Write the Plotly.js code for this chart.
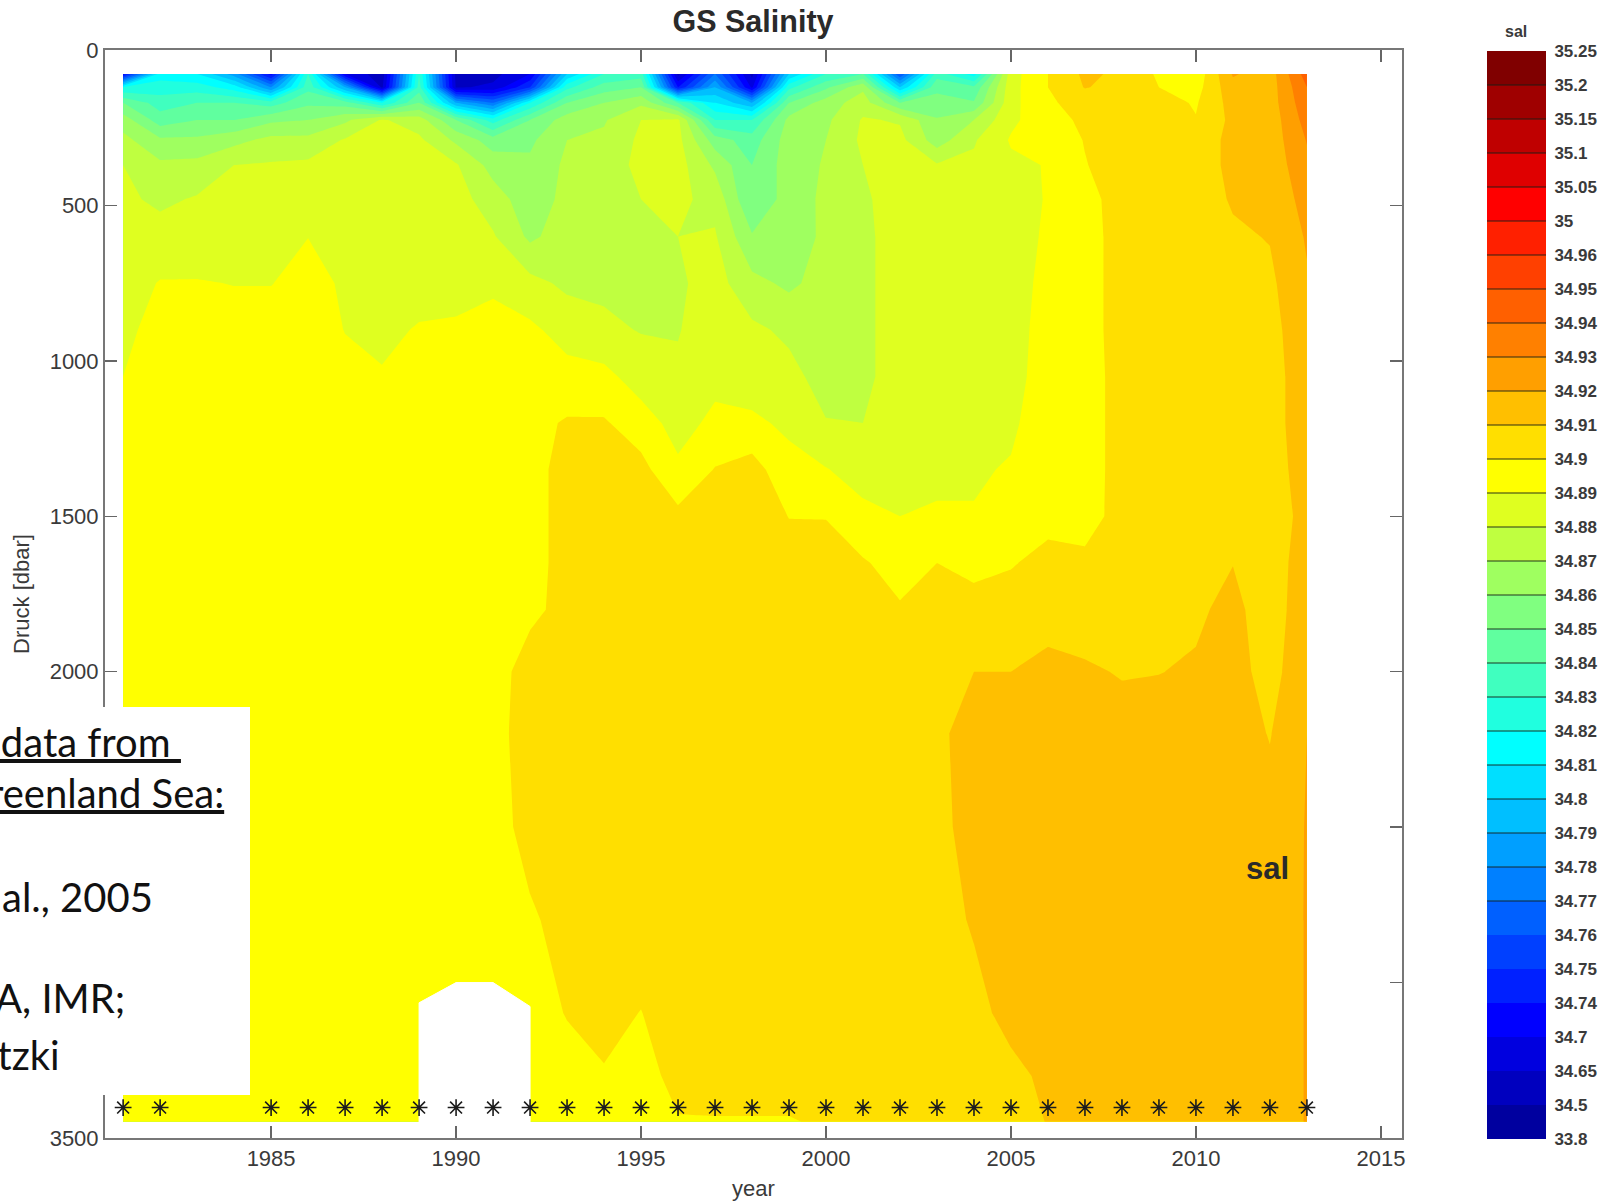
<!DOCTYPE html>
<html>
<head>
<meta charset="utf-8">
<script src="https://cdn.plot.ly/plotly-3.0.1.min.js"></script>
<style>html,body{margin:0;padding:0;background:#fff;overflow:hidden}#c{width:1608px;height:1202px}</style>
</head>
<body>
<div id="c"></div>
<script>
const years = [1981,1982,1983,1984,1985,1986,1987,1988,1989,1990,1991,1992,1993,1994,1995,1996,1997,1998,1999,2000,2001,2002,2003,2004,2005,2006,2007,2008,2009,2010,2011,2012,2013];
const depths = [77,120,170,225,290,370,480,600,750,900,1050,1200,1350,1500,1650,1800,2000,2200,2500,2800,3100,3300,3448];

const s1981 = [34.72,34.82,34.85,34.865,34.873,34.88,34.882,34.884,34.886,34.888,34.89,34.892,34.894,34.895,34.895,34.895,34.895,34.895,34.895,34.895,34.895,34.895,34.895];
const s1982 = [34.815,34.825,34.835,34.845,34.862,34.872,34.878,34.884,34.8905,34.893,34.895,34.895,34.895,34.895,34.895,34.895,34.895,34.895,34.895,34.895,34.895,34.895,34.895];
const s1983 = [34.81,34.825,34.84,34.85,34.862,34.873,34.881,34.885,34.8905,34.893,34.895,34.895,34.895,34.895,34.895,34.895,34.895,34.895,34.895,34.895,34.895,34.895,34.895];
const s1984 = [34.785,34.815,34.84,34.85,34.867,34.88,34.883,34.886,34.8898,34.893,34.895,34.895,34.895,34.895,34.895,34.895,34.895,34.895,34.895,34.895,34.895,34.895,34.895];
const s1985 = [34.72,34.78,34.835,34.858,34.873,34.881,34.884,34.886,34.8898,34.893,34.895,34.895,34.895,34.895,34.895,34.895,34.895,34.895,34.895,34.895,34.895,34.895,34.895];
const s1986 = [34.83,34.837,34.848,34.86,34.873,34.882,34.886,34.8899,34.8925,34.894,34.895,34.895,34.895,34.895,34.895,34.895,34.895,34.895,34.895,34.895,34.895,34.895,34.895];
const s1987 = [34.70,34.79,34.845,34.868,34.881,34.884,34.886,34.8893,34.889,34.8898,34.892,34.894,34.895,34.895,34.895,34.895,34.895,34.895,34.895,34.895,34.895,34.895,34.895];
const s1988 = [34.55,34.62,34.82,34.881,34.883,34.884,34.885,34.886,34.887,34.8885,34.8905,34.893,34.895,34.895,34.895,34.895,34.895,34.895,34.895,34.895,34.895,34.895,34.895];
const s1989 = [34.83,34.835,34.85,34.875,34.882,34.884,34.885,34.886,34.8875,34.8905,34.893,34.895,34.895,34.895,34.895,34.895,34.895,34.895,34.895,34.895,34.895,34.895,34.895];
const s1990 = [34.6,34.63,34.79,34.85,34.868,34.881,34.884,34.885,34.8875,34.891,34.893,34.895,34.895,34.895,34.895,34.895,34.895,34.895,34.895,34.895,34.895,34.895,34.895];
const s1991 = [34.6,34.66,34.77,34.825,34.855,34.866,34.875,34.881,34.889,34.892,34.894,34.895,34.896,34.897,34.897,34.897,34.897,34.897,34.897,34.897,34.897,34.897,34.897];
const s1992 = [34.70,34.75,34.82,34.85,34.858,34.862,34.864,34.868,34.883,34.892,34.895,34.897,34.8975,34.8975,34.8975,34.8985,34.903,34.904,34.9025,34.899,34.895,34.895,34.895];
const s1993 = [34.80,34.827,34.85,34.865,34.87,34.872,34.873,34.875,34.878,34.886,34.8935,34.901,34.9025,34.9025,34.9025,34.902,34.904,34.905,34.905,34.9025,34.9005,34.896,34.895];
const s1994 = [34.83,34.845,34.86,34.869,34.872,34.874,34.875,34.876,34.878,34.882,34.893,34.901,34.904,34.905,34.905,34.905,34.905,34.905,34.905,34.905,34.902,34.8995,34.896];
const s1995 = [34.835,34.85,34.868,34.88,34.882,34.883,34.88,34.8795,34.8795,34.8795,34.885,34.895,34.903,34.905,34.905,34.905,34.905,34.905,34.905,34.904,34.8998,34.897,34.896];
const s1996 = [34.60,34.74,34.84,34.882,34.883,34.884,34.882,34.88,34.8785,34.8795,34.8815,34.886,34.892,34.9025,34.904,34.905,34.905,34.905,34.905,34.905,34.904,34.9025,34.8995];
const s1997 = [34.77,34.79,34.81,34.83,34.855,34.868,34.877,34.881,34.884,34.885,34.887,34.8925,34.9005,34.904,34.905,34.905,34.905,34.905,34.905,34.905,34.905,34.9035,34.8995];
const s1998 = [34.60,34.69,34.79,34.83,34.845,34.85,34.85,34.861,34.873,34.882,34.886,34.8915,34.9045,34.905,34.905,34.905,34.905,34.905,34.905,34.905,34.905,34.9035,34.8995];
const s1999 = [34.80,34.827,34.85,34.863,34.865,34.865,34.865,34.862,34.868,34.878,34.883,34.8885,34.8925,34.8998,34.9035,34.905,34.905,34.905,34.905,34.905,34.905,34.9035,34.8995];
const s2000 = [34.83,34.848,34.865,34.868,34.87,34.871,34.872,34.873,34.874,34.875,34.876,34.8805,34.8905,34.8998,34.9025,34.905,34.905,34.905,34.905,34.905,34.905,34.905,34.901];
const s2001 = [34.84,34.868,34.875,34.881,34.882,34.88,34.878,34.877,34.877,34.877,34.877,34.88,34.886,34.8925,34.901,34.904,34.905,34.905,34.905,34.905,34.905,34.905,34.905];
const s2002 = [34.76,34.80,34.85,34.879,34.883,34.885,34.886,34.886,34.886,34.886,34.886,34.887,34.888,34.89,34.896,34.901,34.904,34.905,34.905,34.905,34.905,34.905,34.905];
const s2003 = [34.835,34.848,34.853,34.861,34.865,34.881,34.883,34.884,34.885,34.886,34.887,34.888,34.889,34.8905,34.90,34.903,34.906,34.9085,34.9085,34.906,34.905,34.905,34.905];
const s2004 = [34.815,34.842,34.851,34.87,34.879,34.882,34.884,34.885,34.886,34.886,34.887,34.888,34.889,34.8905,34.8985,34.902,34.91,34.913,34.912,34.911,34.907,34.905,34.905];
const s2005 = [34.886,34.8865,34.887,34.888,34.891,34.888,34.887,34.887,34.887,34.887,34.887,34.8885,34.8907,34.894,34.8995,34.903,34.91,34.913,34.914,34.915,34.913,34.9075,34.905];
const s2006 = [34.90,34.90,34.8985,34.896,34.893,34.8905,34.8905,34.891,34.892,34.893,34.894,34.895,34.896,34.898,34.902,34.907,34.912,34.914,34.915,34.915,34.915,34.912,34.9105];
const s2007 = [34.912,34.9105,34.904,34.902,34.9005,34.8995,34.896,34.895,34.895,34.895,34.894,34.894,34.894,34.8945,34.903,34.906,34.911,34.914,34.915,34.915,34.915,34.915,34.915];
const s2008 = [34.908,34.907,34.906,34.905,34.905,34.905,34.905,34.905,34.905,34.905,34.905,34.905,34.905,34.905,34.905,34.906,34.9095,34.913,34.915,34.915,34.915,34.915,34.915];
const s2009 = [34.8985,34.90,34.904,34.905,34.905,34.905,34.905,34.905,34.905,34.905,34.905,34.905,34.905,34.905,34.905,34.906,34.9098,34.914,34.915,34.915,34.915,34.915,34.915];
const s2010 = [34.893,34.896,34.899,34.9005,34.905,34.905,34.905,34.905,34.905,34.905,34.905,34.905,34.905,34.905,34.906,34.9085,34.911,34.914,34.915,34.915,34.915,34.915,34.915];
const s2011 = [34.921,34.917,34.914,34.9125,34.9125,34.9125,34.911,34.9085,34.907,34.906,34.905,34.905,34.905,34.906,34.9098,34.9125,34.914,34.915,34.915,34.915,34.915,34.915,34.915];
const s2012 = [34.915,34.915,34.915,34.914,34.914,34.913,34.912,34.9105,34.908,34.906,34.905,34.905,34.905,34.905,34.905,34.905,34.906,34.9095,34.914,34.915,34.915,34.915,34.915];
const s2013 = [34.945,34.94,34.937,34.934,34.9305,34.928,34.924,34.921,34.919,34.918,34.917,34.917,34.915,34.913,34.915,34.916,34.918,34.92,34.9205,34.9205,34.9205,34.9205,34.9205];
const profiles = [s1981,s1982,s1983,s1984,s1985,s1986,s1987,s1988,s1989,s1990,s1991,s1992,s1993,s1994,s1995,s1996,s1997,s1998,s1999,s2000,s2001,s2002,s2003,s2004,s2005,s2006,s2007,s2008,s2009,s2010,s2011,s2012,s2013];

const levels = [33.8,34.5,34.65,34.7,34.74,34.75,34.76,34.77,34.78,34.79,34.8,34.81,34.82,34.83,34.84,34.85,34.86,34.87,34.88,34.89,34.9,34.91,34.92,34.93,34.94,34.95,34.96,35,35.05,35.1,35.15,35.2,35.25];
const levelLabels = ['33.8','34.5','34.65','34.7','34.74','34.75','34.76','34.77','34.78','34.79','34.8','34.81','34.82','34.83','34.84','34.85','34.86','34.87','34.88','34.89','34.9','34.91','34.92','34.93','34.94','34.95','34.96','35','35.05','35.1','35.15','35.2','35.25'];
const bandColors = ['#00009f','#0000bf','#0000df','#0000ff','#0020ff','#0040ff','#0060ff','#0080ff','#009fff','#00bfff','#00dfff','#00ffff','#20ffdf','#40ffbf','#60ff9f','#80ff80','#9fff60','#bfff40','#dfff20','#ffff00','#ffdf00','#ffbf00','#ff9f00','#ff8000','#ff6000','#ff4000','#ff2000','#ff0000','#df0000','#bf0000','#9f0000','#800000'];

const castYears = [1981,1982,1985,1986,1987,1988,1989,1990,1991,1992,1993,1994,1995,1996,1997,1998,1999,2000,2001,2002,2003,2004,2005,2006,2007,2008,2009,2010,2011,2012,2013];
const castDepth = 3402;
const gapYears = [1989,1989,1990,1991,1992,1992];
const gapDepths = [3452,3065,3000,3000,3077,3452];
const xTicks = [1985,1990,1995,2000,2005,2010,2015];
const yTicks = [0,500,1000,1500,2000,2500,3000,3500];
const yTickLabels = ['0','500','1000','1500','2000','','','3500'];

const W = 1608, H = 1202;
const fx = p => p / W;
const fy = p => 1 - p / H;
const sans = 'Liberation Sans, Arial, sans-serif';
const ink = '#3a3a3a';

// the level spacing is uneven: contour on the position within the level list
function toLevelIndex(v) {
  for (let i = 0; i < levels.length - 1; i++) {
    if (v <= levels[i + 1]) return i + (v - levels[i]) / (levels[i + 1] - levels[i]);
  }
  return levels.length - 1;
}
const zIndex = depths.map((_, r) => profiles.map(col => toLevelIndex(col[r])));

const contourScale = [[0, bandColors[0]]]
  .concat(bandColors.map((c, k) => [(k + 1) / 33, c]))
  .concat([[1, bandColors[31]]]);
const barScale = bandColors.map((c, k) => [k / 31, c]);

const barEdges = levels.map((_, i) => i);
const barRows = bandColors.map((_, k) => [k]);
const sepX = [], sepY = [];
for (let i = 7; i < 32; i++) { sepX.push(0, 1, null); sepY.push(i, i, null); }

const traces = [
  {type:'contour', x:years, y:depths, z:zIndex, autocontour:false,
   contours:{start:0, end:32, size:1, coloring:'fill', showlines:false},
   line:{width:0, smoothing:0}, colorscale:contourScale, showscale:false, hoverinfo:'skip'},
  {type:'scatter', mode:'lines', x:gapYears, y:gapDepths, fill:'toself', fillcolor:'#ffffff',
   line:{color:'#ffffff', width:1}, hoverinfo:'skip', showlegend:false},
  {type:'scatter', mode:'markers', x:castYears, y:castYears.map(() => castDepth),
   marker:{symbol:'asterisk-open', size:14, color:'#1c1c1c', line:{color:'#1c1c1c', width:1.6}},
   hoverinfo:'skip', showlegend:false},
  {type:'heatmap', xaxis:'x2', yaxis:'y2', x:[0,1], y:barEdges, z:barRows, zmin:0, zmax:31,
   colorscale:barScale, showscale:false, hoverinfo:'skip'},
  {type:'scatter', mode:'lines', xaxis:'x2', yaxis:'y2', x:sepX, y:sepY,
   line:{color:'rgba(20,30,20,0.6)', width:1.5}, hoverinfo:'skip', showlegend:false}
];

const textLine = (text, right, y, size) => ({
  xref:'paper', yref:'paper', x:fx(right), y:fy(y), xanchor:'right', yanchor:'middle',
  showarrow:false, text:text, align:'right',
  font:{family:'Lato, sans-serif', size:size, color:'#111111'}
});

const layout = {
  width:W, height:H, margin:{l:0,r:0,t:0,b:0,pad:0}, paper_bgcolor:'#ffffff', plot_bgcolor:'#ffffff',
  showlegend:false,
  title:{text:'<b>GS Salinity</b>', x:fx(753), xanchor:'center', y:fy(21), yanchor:'middle',
         font:{family:sans, size:30.5, color:'#2a2a2a'}},
  xaxis:{domain:[fx(105),fx(1402)], range:[1980.51,2015.57], tickmode:'array', tickvals:xTicks,
         ticks:'inside', ticklen:12, tickwidth:1.5, tickcolor:'#666666', mirror:'ticks',
         showline:true, linecolor:'#777777', linewidth:2, showgrid:false, zeroline:false,
         tickfont:{family:sans, size:22, color:ink}, anchor:'y',
         title:{text:'year', standoff:10, font:{family:sans, size:22, color:ink}}},
  yaxis:{domain:[fy(1138),fy(50)], range:[3500,0], tickmode:'array', tickvals:yTicks, ticktext:yTickLabels,
         ticks:'inside', ticklen:12, tickwidth:1.5, tickcolor:'#666666', mirror:'ticks',
         showline:true, linecolor:'#777777', linewidth:2, showgrid:false, zeroline:false,
         tickfont:{family:sans, size:22, color:ink}, anchor:'x',
         title:{text:'Druck [dbar]', standoff:14, font:{family:sans, size:22, color:ink}}},
  xaxis2:{domain:[fx(1487),fx(1546)], range:[0,1], visible:false, anchor:'y2'},
  yaxis2:{domain:[fy(1139),fy(51)], range:[0,32], anchor:'x2', side:'right', tickmode:'array',
          tickvals:barEdges, ticktext:levelLabels, ticks:'outside', ticklen:4, tickcolor:'rgba(0,0,0,0)',
          showline:false, showgrid:false, zeroline:false,
          tickfont:{family:sans, size:17, weight:'bold', color:ink}},
  shapes:[{type:'rect', xref:'paper', yref:'paper', x0:0, x1:fx(250), y0:fy(1095), y1:fy(707),
           fillcolor:'#ffffff', line:{width:0}, layer:'above'}],
  annotations:[
    textLine('<u>-data from&#160;</u>', 183, 742, 40),
    textLine('<u>reenland Sea:</u>', 226, 793, 40),
    textLine('al., 2005', 155, 897, 40),
    textLine('A, IMR;', 127, 998, 40),
    textLine('otzki', 62, 1055, 40),
    {xref:'paper', yref:'paper', x:fx(1267), y:fy(868), xanchor:'center', yanchor:'middle', showarrow:false,
     text:'<b>sal</b>', font:{family:sans, size:31, color:'#2a2a2a'}},
    {xref:'paper', yref:'paper', x:fx(1516), y:fy(32), xanchor:'center', yanchor:'middle', showarrow:false,
     text:'<b>sal</b>', font:{family:sans, size:16, color:ink}}
  ]
};
Plotly.newPlot('c', traces, layout, {displayModeBar:false, staticPlot:true});
</script>
</body>
</html>
